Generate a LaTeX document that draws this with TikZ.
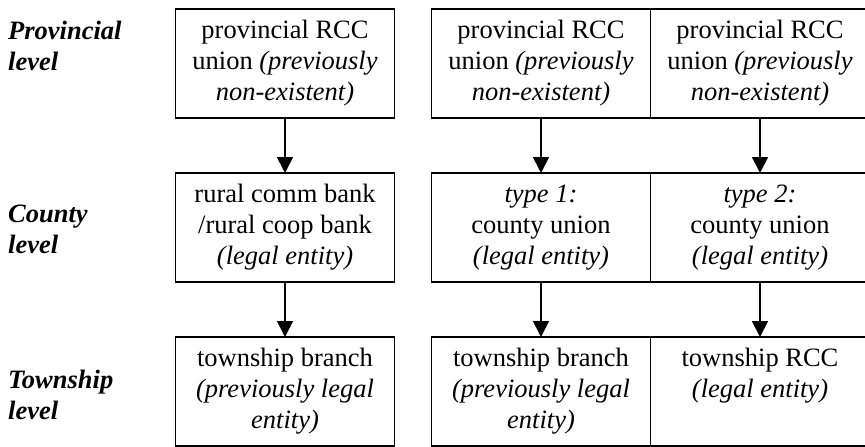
\documentclass[tikz,border=0pt]{standalone}
\usepackage{fontspec}
\setmainfont{Liberation Serif}
\usepackage{tikz}
\usetikzlibrary{arrows.meta,positioning}

\begin{document}
\begin{tikzpicture}[x=1pt,y=-1pt,node distance=55pt and 0pt,
      box/.style={draw,line width=1.7pt,outer sep=0pt,inner sep=0pt,
        minimum width=219pt,minimum height=109pt,align=center,
        font=\fontsize{26.5}{31}\selectfont},
      lvl/.style={anchor=north west,inner sep=0pt,align=left,
        font=\fontsize{26.5}{31}\selectfont\bfseries\itshape},
      arr/.style={-{Triangle[length=16pt,width=16pt]},line width=1.7pt}]
    \useasboundingbox (0,0) rectangle (865,447);
    % level labels
    \node[lvl] (prov) at (8,20.5) {Provincial\\level};
    \node[lvl] (cnty) at (8,205) {County\\level};
    \node[lvl] (twnp) at (8,369.5) {Township\\level};
    % left column
    \node[box] (pa) at (285,63.5)
      {provincial RCC\\union \textit{(previously}\\\textit{non-existent)}};
    \node[box,below=of pa] (ca)
      {rural comm bank\\/rural coop bank\\\textit{(legal entity)}};
    \node[box,below=of ca] (ta)
      {township branch\\\textit{(previously legal}\\\textit{entity)}};
    % right group
    \node[box] (pb) at (541,63.5)
      {provincial RCC\\union \textit{(previously}\\\textit{non-existent)}};
    \node[box,right=of pb] (pc)
      {provincial RCC\\union \textit{(previously}\\\textit{non-existent)}};
    \node[box,below=of pb] (cb)
      {\textit{type 1:}\\county union\\\textit{(legal entity)}};
    \node[box,right=of cb] (cc)
      {\textit{type 2:}\\county union\\\textit{(legal entity)}};
    \node[box,below=of cb] (tb)
      {township branch\\\textit{(previously legal}\\\textit{entity)}};
    \node[box,right=of tb] (tc)
      {township RCC\\\textit{(legal entity)}\\\vphantom{)}};
    % arrows
    \draw[arr] (pa) -- (ca);
    \draw[arr] (ca) -- (ta);
    \draw[arr] (pb) -- (cb);
    \draw[arr] (cb) -- (tb);
    \draw[arr] (pc) -- (cc);
    \draw[arr] (cc) -- (tc);
  \end{tikzpicture}
\end{document}
